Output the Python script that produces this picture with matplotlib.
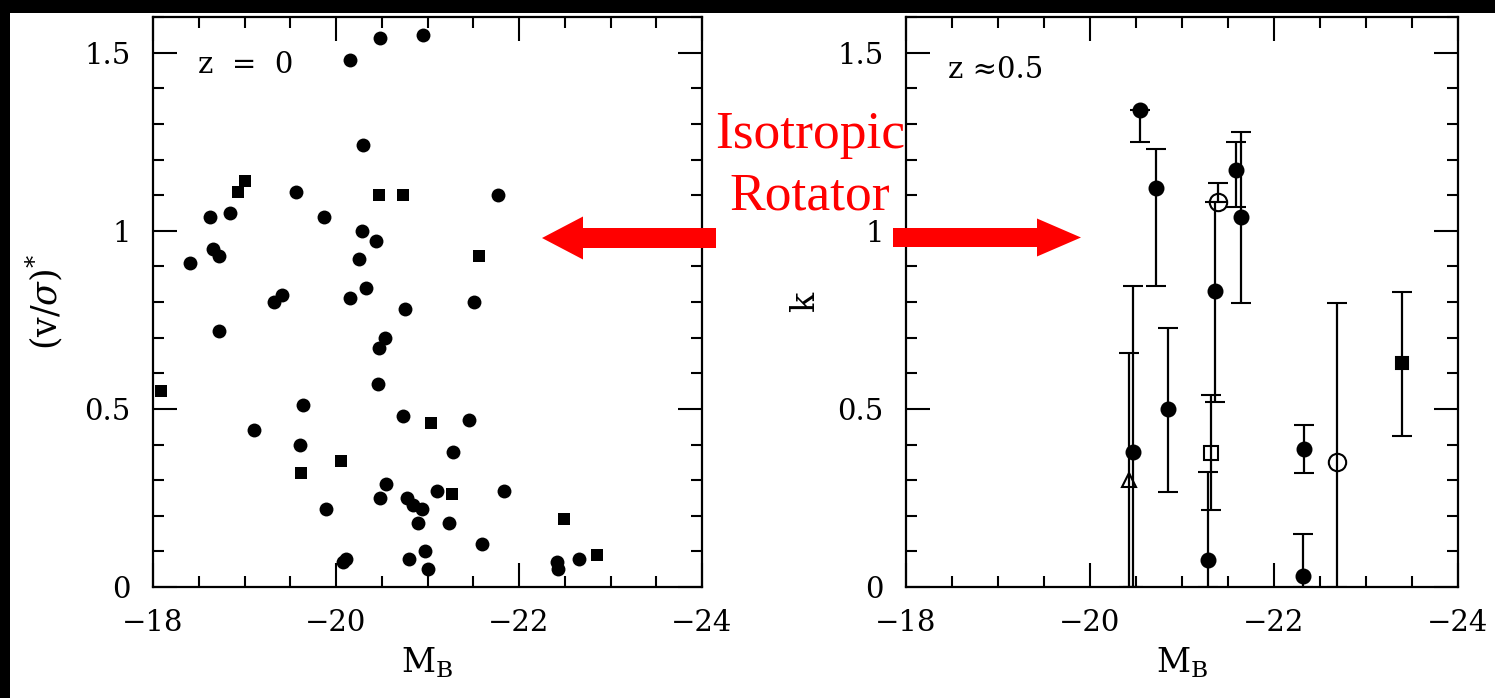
import matplotlib
matplotlib.use("Agg")
import matplotlib.pyplot as plt
from matplotlib.ticker import MultipleLocator, FixedLocator
from matplotlib.patches import FancyArrow, Rectangle

plt.rcParams['font.family'] = 'DejaVu Serif'
plt.rcParams['mathtext.fontset'] = 'dejavuserif'

# local sample (z = 0): absolute B magnitude vs anisotropy (v/sigma)*
z0_circle_mb = [-20.48, -20.95, -20.15, -20.30, -19.56, -21.77, -18.84, -18.62,
                -19.87, -20.28, -20.44, -18.66, -18.72, -18.40, -20.25, -20.33,
                -20.15, -19.41, -19.32, -20.75, -18.72, -20.54, -20.47, -20.46,
                -19.64, -20.73, -21.45, -19.10, -19.61, -21.28, -20.55, -20.48,
                -20.78, -20.84, -20.94, -21.10, -21.84, -19.89, -20.90, -21.23,
                -21.60, -20.11, -20.08, -20.80, -20.97, -21.01, -22.41, -22.43,
                -22.66, -21.51]
z0_circle_vs = [1.54, 1.55, 1.48, 1.24, 1.11, 1.10, 1.05, 1.04,
                1.04, 1.00, 0.97, 0.95, 0.93, 0.91, 0.92, 0.84,
                0.81, 0.82, 0.80, 0.78, 0.72, 0.70, 0.67, 0.57,
                0.51, 0.48, 0.47, 0.44, 0.40, 0.38, 0.29, 0.25,
                0.25, 0.23, 0.22, 0.27, 0.27, 0.22, 0.18, 0.18,
                0.12, 0.08, 0.07, 0.08, 0.10, 0.05, 0.07, 0.05,
                0.08, 0.80]
z0_square_mb = [-19.00, -18.93, -20.47, -20.73, -21.56, -18.09, -21.04,
                -20.05, -19.62, -21.27, -22.49, -22.85]
z0_square_vs = [1.14, 1.11, 1.10, 1.10, 0.93, 0.55, 0.46,
                0.355, 0.32, 0.26, 0.19, 0.09]

# intermediate redshift sample (z ~ 0.5): k with lower/upper bounds
fc_mb = [-20.54, -20.72, -21.59, -21.64, -21.36, -20.47, -20.85, -22.33, -22.32, -21.28]
fc_k = [1.34, 1.12, 1.17, 1.04, 0.83, 0.38, 0.50, 0.387, 0.03, 0.076]
fc_lo = [1.25, 0.846, 1.066, 0.796, 0.52, 0.0, 0.268, 0.319, 0.0, 0.0]
fc_hi = [1.34, 1.229, 1.248, 1.278, 1.08, 0.846, 0.726, 0.455, 0.149, 0.324]

fs_mb = [-23.39]
fs_k = [0.63]
fs_lo = [0.425]
fs_hi = [0.827]

os_mb = [-21.32]
os_k = [0.375]
os_lo = [0.216]
os_hi = [0.539]

oc_mb = [-21.39, -22.69]
oc_k = [1.08, 0.35]
oc_lo = [1.08, 0.0]
oc_hi = [1.135, 0.796]

ot_mb = [-20.42]
ot_k = [0.30]
ot_lo = [0.0]
ot_hi = [0.658]

x_ticks = [-18, -20, -22, -24]
x_tick_labels = ['\u221218', '\u221220', '\u221222', '\u221224']
y_ticks = [0, 0.5, 1, 1.5]
y_tick_labels = ['0', '0.5', '1', '1.5']

W, H = 1495, 698
fig = plt.figure(figsize=(W / 100, H / 100), dpi=100)
fig.patch.set_facecolor('white')

ax1 = fig.add_axes([153 / W, 1 - 587 / H, 549 / W, 570 / H])
ax2 = fig.add_axes([906 / W, 1 - 587 / H, 552 / W, 570 / H])


def style_axis(ax):
    ax.set_xlim(-18, -24)
    ax.set_ylim(0, 1.6)
    ax.xaxis.set_major_locator(FixedLocator(x_ticks))
    ax.set_xticklabels(x_tick_labels)
    ax.xaxis.set_minor_locator(MultipleLocator(0.5))
    ax.yaxis.set_major_locator(FixedLocator(y_ticks))
    ax.set_yticklabels(y_tick_labels)
    ax.yaxis.set_minor_locator(MultipleLocator(0.1))
    ax.tick_params(which='both', direction='in', top=True, right=True,
                   width=1.5, labelsize=21, pad=16, colors='black')
    ax.tick_params(which='major', length=17)
    ax.tick_params(which='minor', length=8)
    for s in ax.spines.values():
        s.set_linewidth(1.6)


# left panel
ax1.plot(z0_circle_mb, z0_circle_vs, 'o', color='black', ms=10, mew=0)
ax1.plot(z0_square_mb, z0_square_vs, 's', color='black', ms=8.5, mew=0)
style_axis(ax1)
ax1.text(0.082, 0.916, 'z  =  0', transform=ax1.transAxes, fontsize=21,
         va='center', ha='left')
ax1.text(-0.197, 0.5, r'$(\mathrm{v}/\sigma)^{*}$', transform=ax1.transAxes,
         fontsize=25, rotation=90, va='center', ha='center')
ax1.text(0.5, -0.133, r'$\mathrm{M_B}$', transform=ax1.transAxes,
         fontsize=24, va='center', ha='center')


# right panel
def draw_err(ax, mb, k, lo, hi, marker, ms, mfc):
    yerr = [[v - l for v, l in zip(k, lo)], [h - v for v, h in zip(k, hi)]]
    ax.errorbar(mb, k, yerr=yerr, fmt=marker, color='black', ms=ms,
                mfc=mfc, mec='black', mew=1.5, elinewidth=1.6,
                capsize=7.5, capthick=1.6)


draw_err(ax2, fc_mb, fc_k, fc_lo, fc_hi, 'o', 10, 'black')
draw_err(ax2, fs_mb, fs_k, fs_lo, fs_hi, 's', 9, 'black')
draw_err(ax2, os_mb, os_k, os_lo, os_hi, 's', 10.5, 'none')
draw_err(ax2, oc_mb, oc_k, oc_lo, oc_hi, 'o', 12.5, 'none')
draw_err(ax2, ot_mb, ot_k, ot_lo, ot_hi, '^', 9.5, 'none')
style_axis(ax2)
ax2.text(0.076, 0.907, 'z \u22480.5', transform=ax2.transAxes, fontsize=21,
         va='center', ha='left')
ax2.text(-0.183, 0.5, 'k', transform=ax2.transAxes,
         fontsize=24, rotation=90, va='center', ha='center')
ax2.text(0.5, -0.133, r'$\mathrm{M_B}$', transform=ax2.transAxes,
         fontsize=24, va='center', ha='center')

# overlay in pixel units for the annotation and frame strips
ov = fig.add_axes([0, 0, 1, 1], zorder=10)
ov.set_xlim(0, W)
ov.set_ylim(H, 0)
ov.axis('off')
ov.patch.set_alpha(0)
ov.add_patch(Rectangle((0, 0), W, 13, color='black', lw=0))
ov.add_patch(Rectangle((0, 0), 10, H, color='black', lw=0))
ov.add_patch(FancyArrow(716, 238, -174, 0, width=20, head_width=43,
                        head_length=41, length_includes_head=True,
                        color='red', lw=0))
ov.add_patch(FancyArrow(893, 237.5, 188, 0, width=19, head_width=38,
                        head_length=44, length_includes_head=True,
                        color='red', lw=0))
ov.text(810, 148, 'Isotropic', color='red', fontsize=38.5,
        family='Liberation Serif', ha='center', va='baseline')
ov.text(810, 210, 'Rotator', color='red', fontsize=38.5,
        family='Liberation Serif', ha='center', va='baseline')

fig.savefig('out.png', dpi=100)
